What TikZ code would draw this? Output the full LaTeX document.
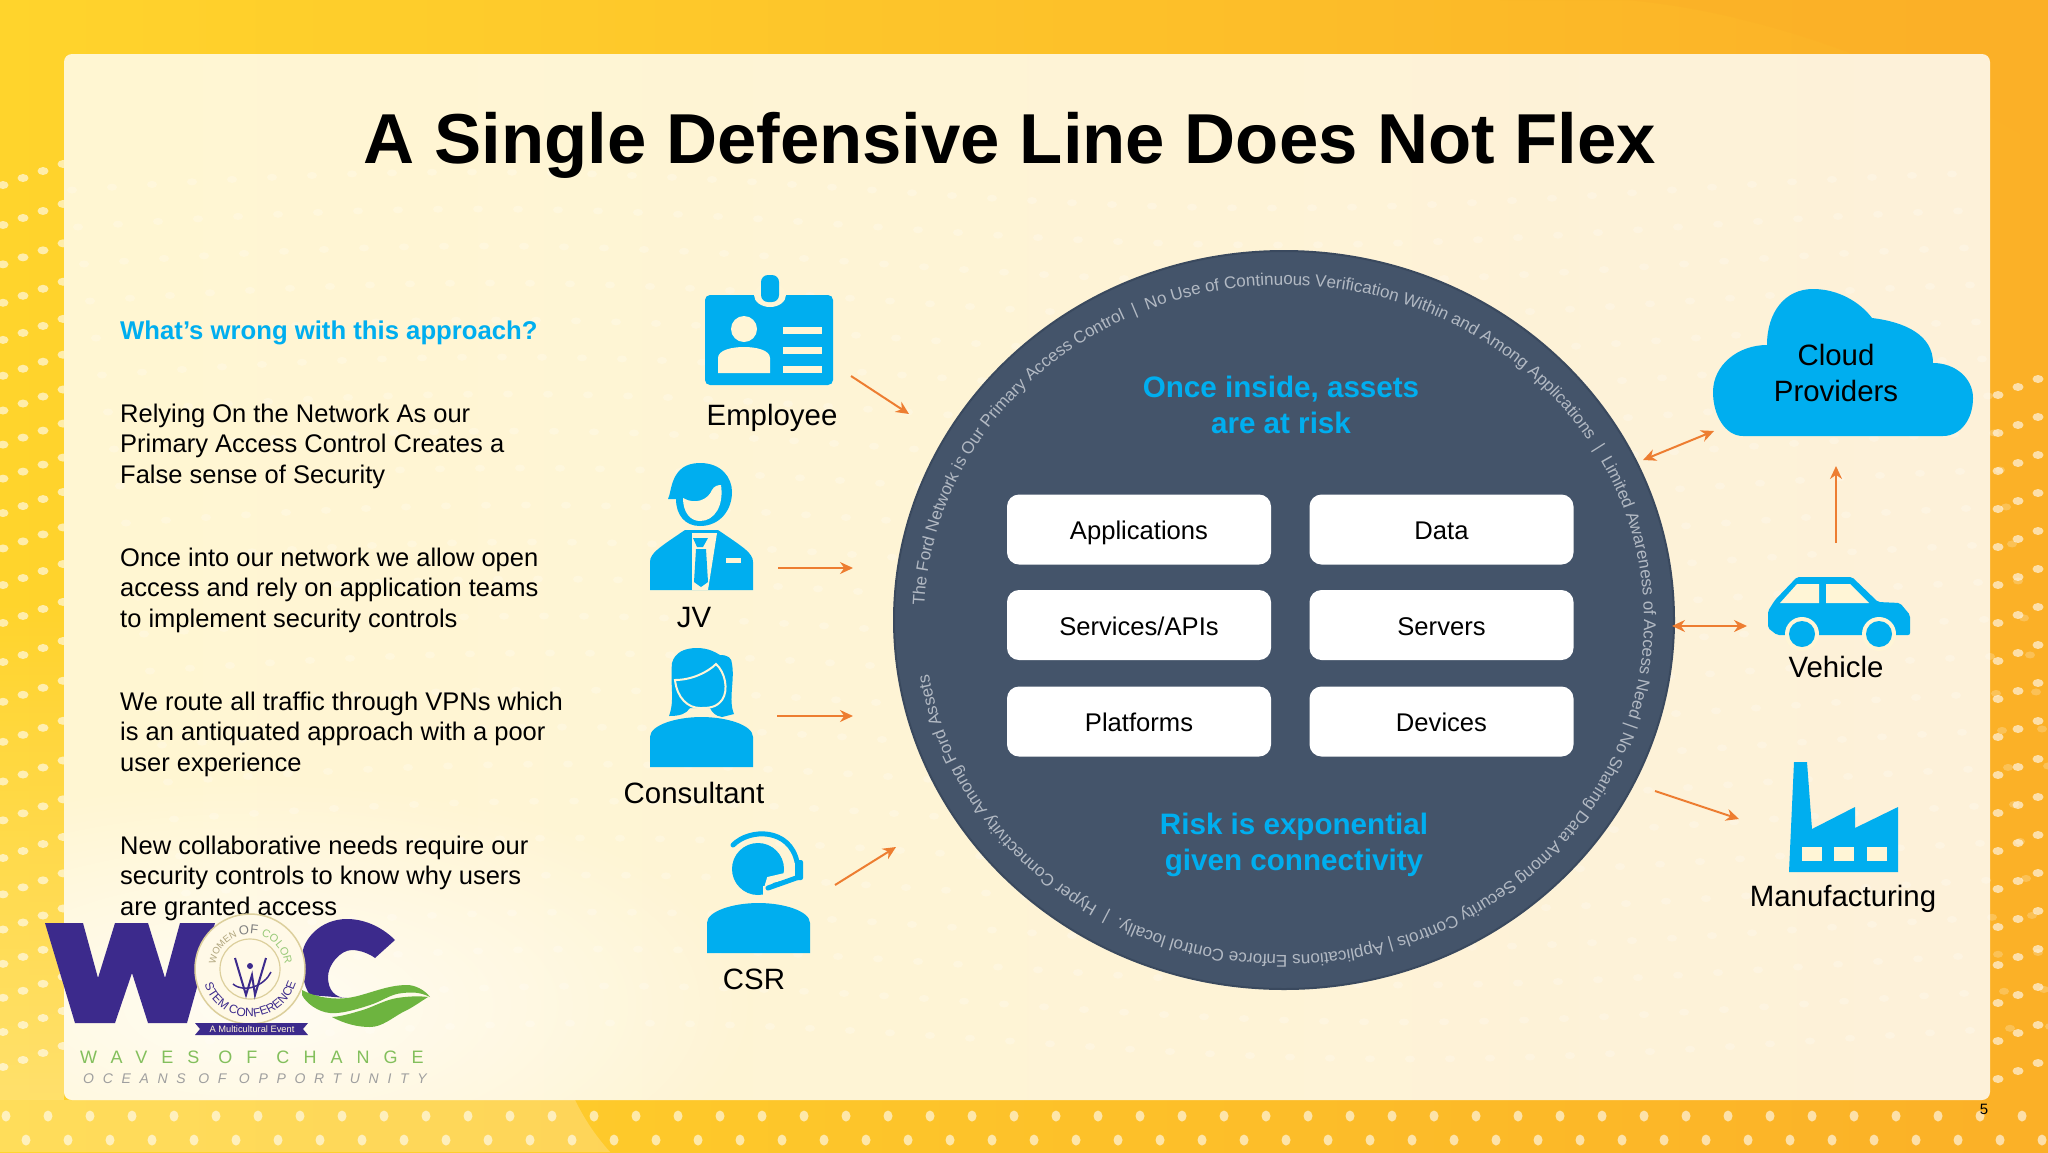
\documentclass[tikz,border=0pt]{standalone}
\usepackage{fontspec}
\setmainfont{Liberation Sans}
\newfontfamily\wavesfont[LetterSpace=78]{Liberation Sans}
\newfontfamily\oceansfont[LetterSpace=62]{Liberation Sans}
\usetikzlibrary{arrows.meta,decorations.text,fadings}
\definecolor{bgleft}{HTML}{FFD42C}
\definecolor{bgmid}{HTML}{FFD522}
\definecolor{bgright}{HTML}{FBB027}
\definecolor{panelleft}{HTML}{FFF6D2}
\definecolor{panelright}{HTML}{FDF1D9}
\definecolor{iconblue}{HTML}{00AEEF}
\definecolor{ringfill}{HTML}{44546A}
\definecolor{ringedge}{HTML}{3A495E}
\definecolor{ringtext}{HTML}{B2B9C3}
\definecolor{arrowc}{HTML}{ED7D31}
\definecolor{cutout}{HTML}{FFF5D6}
\definecolor{logopurple}{HTML}{3C2A8C}
\definecolor{logogreen}{HTML}{6DB43F}
\definecolor{logotan}{HTML}{DCCF9C}
\tikzfading[name=logoglow, inner color=transparent!0, outer color=transparent!100]
\tikzset{
  dotmark/.style={white, opacity=0.6},
  faintdot/.style={white, opacity=0.22},
  iconfill/.style={fill=iconblue, draw=none},
  cutfill/.style={fill=cutout, draw=none},
  flow/.style={arrowc, line width=2pt, -{Stealth[length=13pt,width=12pt]}},
  flowboth/.style={arrowc, line width=2pt, {Stealth[length=13pt,width=12pt]}-{Stealth[length=13pt,width=12pt]}},
  assetbox/.style={fill=white, rounded corners=12pt, minimum width=264pt, minimum height=70pt, inner sep=0pt, text height=22pt, text depth=2pt, yshift=0.5pt, font=\fontsize{25.6}{30}\selectfont},
  para/.style={anchor=north west, align=left, inner sep=0pt, font=\fontsize{25.5}{30.6}\selectfont},
  iconlabel/.style={anchor=base, inner sep=0pt, font=\fontsize{29.4}{36}\selectfont},
  riskhead/.style={align=center, inner sep=0pt, text=iconblue, font=\bfseries\fontsize{29.6}{36}\selectfont},
  pics/bust/.style={code={
    \fill[iconblue] (-51.5,0) -- (-51.5,30) .. controls (-51.5,42) and (-25,50) .. (0,50)
      .. controls (25,50) and (51.5,42) .. (51.5,30) -- (51.5,0) -- cycle;
  }}
}
\begin{document}
\begin{tikzpicture}[x=1pt,y=1pt]
    \useasboundingbox (0,0) rectangle (2048,-1152);

    % backdrop
    \shade[left color=bgleft, middle color=bgmid, right color=bgright] (0,0) rectangle (2048,-1152);
    \fill[white, opacity=0.22] (0,-1152) -- (0,-1100) -- (575,-1100) .. controls (585,-1120) and (595,-1135) .. (610,-1152) -- cycle;
    \fill[white, opacity=0.3, path fading=north] (0,-600) rectangle (64,-1100);
    \fill[bgright, opacity=0.55] (1500,0) .. controls (1700,20) and (1900,-60) .. (2048,-150) -- (2048,0) -- cycle;
    \foreach \col in {0,...,3} \foreach \row in {0,...,24} {
        \pgfmathsetmacro\dotx{3+\col*20}
        \pgfmathsetmacro\doty{-185-\row*37+\col*7-7*sin(\row*25)}
        \fill[dotmark] (\dotx,\doty) ellipse [x radius=5.5pt, y radius=4pt];
    }
    \foreach \col in {0,...,2} \foreach \row in {0,...,18} {
        \pgfmathsetmacro\dotx{1998+\col*20}
        \pgfmathsetmacro\doty{-395-\row*38+\col*8}
        \fill[dotmark] (\dotx,\doty) ellipse [x radius=5.5pt, y radius=4pt];
    }
    \foreach \col in {0,...,48} \foreach \row in {0,1} {
        \pgfmathsetmacro\dotx{6+\col*42+\row*20}
        \pgfmathsetmacro\doty{-1116-\row*24}
        \fill[dotmark] (\dotx,\doty) ellipse [x radius=4.5pt, y radius=5.5pt];
    }

    % panel
    \shade[left color=panelleft, right color=panelright, rounded corners=8pt] (64,-54) rectangle (1990,-1100);
    \begin{scope}
        \clip[rounded corners=8pt] (64,-54) rectangle (1990,-1100);
        \fill[white, opacity=0.75, path fading=logoglow, fit fading] (-250,-780) rectangle (760,-1230);
    \end{scope}
    \foreach \col in {0,...,47} \foreach \row in {0,...,23} {
        \pgfmathsetmacro\dotx{72+\col*40+\row*6}
        \pgfmathsetmacro\doty{-190-\row*37+18*sin(\col*9)}
        \fill[faintdot] (\dotx,\doty) ellipse [x radius=5pt, y radius=3.5pt];
    }

    \node[anchor=base, inner sep=0pt, font=\bfseries\fontsize{70.7}{80}\selectfont] (title) at (1010,-163) {A Single Defensive Line Does Not Flex};

    % left column
    \node[anchor=base west, inner sep=0pt, text=iconblue, font=\bfseries\fontsize{25.7}{30}\selectfont] (wrong) at (120,-339) {What’s wrong with this approach?};
    \node[para] (pnetwork) at (120,-400.6) {\strut Relying On the Network As our\\Primary Access Control Creates a\\False sense of Security};
    \node[para] (popen) at (120,-544.6) {\strut Once into our network we allow open\\access and rely on application teams\\to implement security controls};
    \node[para] (pvpn) at (120,-688.6) {\strut We route all traffic through VPNs which\\is an antiquated approach with a poor\\user experience};
    \node[para] (pneeds) at (120,-832.6) {\strut New collaborative needs require our\\security controls to know why users\\are granted access};

    % employee badge
    \fill[iconfill, rounded corners=5pt] (705,-295) rectangle (833,-385);
    \fill[cutfill] (770,-295) ellipse [x radius=16pt, y radius=12pt];
    \fill[iconfill, rounded corners=7pt] (761,-275) rectangle (779,-302);
    \fill[cutfill] (744,-329) circle (13pt);
    \fill[cutfill] (718,-373) -- (718,-358) .. controls (718,-350) and (732,-347) .. (744,-347) .. controls (756,-347) and (770,-350) .. (770,-358) -- (770,-373) -- cycle;
    \foreach \liney in {327,347,366} \fill[cutfill] (783,-\liney) rectangle (822,-\liney-7);
    \node[iconlabel] (employee) at (772,-425) {Employee};

    % JV
    \fill[iconfill] (668,-499) .. controls (672,-492) and (670,-463) .. (700,-463) .. controls (722,-463) and (732,-478) .. (732,-492)
        .. controls (732,-510) and (720,-526) .. (700,-526) .. controls (685,-526) and (676,-515) .. (676,-499) -- cycle;
    \fill[cutfill] (683,-498) .. controls (695,-505) and (708,-500) .. (712,-490) .. controls (714,-486) and (718,-485) .. (721,-485)
        .. controls (724,-505) and (715,-521) .. (700,-521) .. controls (690,-521) and (683,-512) .. (683,-498) -- cycle;
    \fill[iconfill] (650,-590) -- (650,-562) .. controls (650,-553) and (660,-547) .. (685,-530) -- (718,-530) .. controls (743,-547) and (753,-553) .. (753,-562) -- (753,-590) -- cycle;
    \fill[cutfill] (692,-533) -- (717,-533) -- (708,-590) -- (692,-590) -- cycle;
    \fill[iconfill] (693,-538) -- (708,-538) -- (703,-547) -- (697,-547) -- cycle;
    \fill[iconfill] (696,-549) -- (706,-549) -- (708,-582) -- (701,-587) -- (694,-582) -- cycle;
    \fill[cutfill] (726,-558) rectangle (741,-563);
    \node[iconlabel] (jv) at (694,-627) {JV};

    % consultant
    \fill[iconfill] (669,-716) .. controls (675,-700) and (670,-685) .. (672,-663) .. controls (675,-652) and (685,-648) .. (697,-648)
        .. controls (708,-648) and (715,-652) .. (720,-655) .. controls (728,-655) and (732,-658) .. (732,-664) .. controls (735,-680) and (728,-700) .. (734,-714)
        -- (722,-717) .. controls (715,-716) and (712,-712) .. (710,-708) -- (690,-708) .. controls (686,-714) and (680,-716) .. (669,-716) -- cycle;
    \draw[cutout, line width=2pt] (675,-680) .. controls (692,-680) and (708,-672) .. (716,-664) .. controls (725,-672) and (729,-690) .. (722,-700)
        .. controls (716,-708) and (708,-708) .. (700,-708) .. controls (688,-708) and (677,-698) .. (675,-680) -- cycle;
    \pic (consultantbody) at (701.5,-767) {bust};
    \node[iconlabel] (consultant) at (694,-803) {Consultant};

    % CSR
    \fill[iconfill] (758,-869) circle (26pt);
    \draw[cutout, line width=7pt] (767,-890) -- (770,-880) -- (800,-873);
    \fill[cutfill] (763,-886) rectangle (790,-900);
    \draw[iconblue, line width=5pt, line cap=round] (733,-845) .. controls (750,-828) and (790,-828) .. (797,-862);
    \fill[iconfill, rounded corners=2pt] (795,-860) rectangle (803,-880);
    \draw[iconblue, line width=5pt, line cap=round] (799,-877) -- (768,-888);
    \pic (csrbody) at (758.5,-953) {bust};
    \node[iconlabel] (csr) at (754,-989) {CSR};

    % ring
    \coordinate (ringc) at (1284,-620);
    \fill[ringfill, draw=ringedge, line width=2pt] (ringc) ellipse [x radius=390pt, y radius=369pt];
    \path[decorate, decoration={text along path, text format delimiters={[}{]}, text align={fit to path},
        text={[\color{ringtext}\fontsize{17}{20}\selectfont]The Ford Network is Our Primary Access Control {\ }| {\ }No Use of Continuous Verification Within and Among Applications {\ }| {\ }Limited Awareness of Access Need | No Sharing Data Among Security Controls | Applications Enforce Control locally. {\ }| {\ }Hyper Connectivity Among Ford Assets}}]
        (ringc) ++(177.6:360pt and 335pt) arc [start angle=177.6, end angle=-170, x radius=360pt, y radius=335pt];
    \node[riskhead] (inside) at (1281,-404.7) {Once inside, assets\\are at risk};
    \node[riskhead] (exponential) at (1294,-845) {Risk is exponential\\given connectivity};
    \foreach \nm/\txt/\x/\y in {apps/Applications/1139/530, data/Data/1441.5/530,
        services/{Services/APIs}/1139/625.5, servers/Servers/1441.5/625.5,
        platforms/Platforms/1139/722, devices/Devices/1441.5/722}
        \node[assetbox] (\nm) at (\x,-\y) {\txt};

    % cloud
    \fill[iconfill] (1743,-436) .. controls (1725,-436) and (1713,-415) .. (1713,-392) .. controls (1713,-365) and (1738,-345) .. (1767,-345)
        .. controls (1767,-312) and (1785,-289) .. (1813,-289) .. controls (1838,-289) and (1860,-302) .. (1872,-318)
        .. controls (1905,-322) and (1933,-335) .. (1933,-363) .. controls (1955,-363) and (1973,-378) .. (1973,-398)
        .. controls (1973,-420) and (1960,-436) .. (1943,-436) -- cycle;
    \node[align=center, inner sep=0pt, font=\fontsize{29.4}{36}\selectfont] (cloud) at (1836,-373.3) {Cloud\\Providers};

    % vehicle
    \fill[iconfill, rounded corners=2pt] (1777,-635) -- (1768,-628) -- (1768,-611) -- (1775,-600) -- (1797,-577) -- (1852,-577) -- (1878,-602) -- (1900,-603) -- (1910,-615) -- (1910,-635) -- cycle;
    \fill[cutfill] (1780,-603) -- (1797,-584) -- (1819,-584) -- (1819,-603) -- cycle;
    \fill[cutfill] (1826,-584) -- (1850,-584) -- (1869,-603) -- (1826,-603) -- cycle;
    \foreach \wheelx in {1802,1879} {
        \fill[cutfill] (\wheelx,-634) circle (17pt);
        \fill[iconfill] (\wheelx,-634) circle (13pt);
    }
    \node[iconlabel] (vehicle) at (1836,-677) {Vehicle};

    % factory
    \fill[iconfill] (1789,-872) -- (1794,-762) -- (1807,-762) -- (1812,-829) -- (1855,-807) -- (1855,-828) -- (1898,-807) -- (1898,-872) -- cycle;
    \foreach \winx in {1802,1834,1867} \fill[cutfill] (\winx,-847) rectangle (\winx+20,-861);
    \node[iconlabel] (manufacturing) at (1843,-906) {Manufacturing};

    % connectors
    \coordinate (empfrom) at (851,-376);   \coordinate (empto) at (909,-414);
    \coordinate (jvfrom) at (778,-568);    \coordinate (jvto) at (853,-568);
    \coordinate (confrom) at (777,-716);   \coordinate (conto) at (853,-716);
    \coordinate (csrfrom) at (835,-885);   \coordinate (csrto) at (896,-847);
    \coordinate (ringcloud) at (1643,-460); \coordinate (cloudin) at (1714,-431);
    \coordinate (ringcar) at (1672,-626);  \coordinate (carin) at (1747,-626);
    \coordinate (carup) at (1836,-543);    \coordinate (cloudlow) at (1836,-466);
    \coordinate (ringfac) at (1655,-791);  \coordinate (facin) at (1739,-819);
    \draw[flow] (empfrom) -- (empto);
    \draw[flow] (jvfrom) -- (jvto);
    \draw[flow] (confrom) -- (conto);
    \draw[flow] (csrfrom) -- (csrto);
    \draw[flowboth] (ringcloud) -- (cloudin);
    \draw[flowboth] (ringcar) -- (carin);
    \draw[flow] (carup) -- (cloudlow);
    \draw[flow] (ringfac) -- (facin);

    % logo
    \fill[logopurple] (45,-923) -- (83,-923) -- (98,-978) -- (115,-923) -- (148,-923) -- (165,-978) -- (180,-923) -- (215,-923)
        -- (187,-1023) -- (148,-1023) -- (132,-973) -- (115,-1023) -- (75,-1023) -- cycle;
    \fill[logopurple] (395,-940) .. controls (380,-925) and (362,-919) .. (347,-919) .. controls (320,-919) and (302,-940) .. (302,-957)
        .. controls (302,-972) and (303,-985) .. (310,-995) -- (347,-998) .. controls (335,-998) and (328,-990) .. (328,-977)
        .. controls (328,-965) and (340,-950) .. (352,-950) .. controls (360,-950) and (370,-954) .. (375,-958) -- cycle;
    \fill[logogreen] (302,-990) .. controls (313,-996) and (330,-1000) .. (347,-998) .. controls (365,-996) and (385,-985) .. (407,-985)
        .. controls (415,-985) and (425,-990) .. (430,-997) .. controls (420,-992) and (412,-992) .. (403,-993) .. controls (390,-994) and (385,-1000) .. (370,-1005)
        .. controls (355,-1010) and (340,-1014) .. (330,-1013) .. controls (318,-1012) and (306,-1003) .. (302,-995) -- cycle;
    \fill[logogreen] (332,-1017) .. controls (345,-1016) and (355,-1012) .. (363,-1010) .. controls (375,-1006) and (385,-1000) .. (397,-998)
        .. controls (410,-996) and (420,-996) .. (428,-997) .. controls (420,-1002) and (412,-1008) .. (403,-1012)
        .. controls (392,-1018) and (382,-1027) .. (370,-1027) .. controls (358,-1027) and (345,-1024) .. (332,-1017) -- cycle;
    \coordinate (emblem) at (250,-969);
    \fill[cutout!60!white, draw=logotan, line width=1.5pt] (emblem) circle (55pt);
    \draw[logotan, line width=1.2pt] (emblem) circle (30pt);
    \path[decorate, decoration={text along path, text format delimiters={[}{]}, text align={center},
        text={[\color{logotan!80!black}\fontsize{9.5}{11}\selectfont]WOMEN [\color{gray}\fontsize{13}{14}\selectfont]OF [\color{logogreen!70!white}\fontsize{11}{12}\selectfont]COLOR}}]
        (emblem) ++(188:35pt) arc [start angle=188, end angle=-8, radius=35pt];
    \path[decorate, decoration={text along path, text format delimiters={[}{]}, text align={fit to path},
        text={[\color{logopurple}\fontsize{12}{13}\selectfont]STEM CONFERENCE}}]
        (emblem) ++(199:48pt) arc [start angle=199, end angle=343, radius=48pt];
    \draw[logopurple, line width=2pt] (235,-958) -- (246,-995) -- (252,-975) -- (255,-995) -- (266,-958);
    \fill[logopurple] (250,-966) circle (3pt);
    \draw[logopurple, line width=1.5pt] (233,-984) .. controls (245,-994) and (265,-985) .. (271,-972);
    \fill[logopurple] (195,-1023) -- (308,-1023) -- (303,-1029) -- (308,-1035) -- (195,-1035) -- (200,-1029) -- cycle;
    \node[inner sep=0pt, text=cutout, font=\fontsize{9.3}{10}\selectfont] (multi) at (252,-1029) {A Multicultural Event};
    \node[anchor=base west, inner sep=0pt, text=logogreen!85!white, font=\wavesfont\fontsize{18}{20}\selectfont] (waves) at (80,-1063) {WAVES OF CHANGE};
    \node[anchor=base west, inner sep=0pt, text=gray!75, font=\oceansfont\itshape\fontsize{14}{16}\selectfont] (oceans) at (83,-1083) {OCEANS OF OPPORTUNITY};

    \node[inner sep=0pt, font=\fontsize{15}{16}\selectfont] (pagenum) at (1984,-1109) {5};
\end{tikzpicture}
\end{document}
